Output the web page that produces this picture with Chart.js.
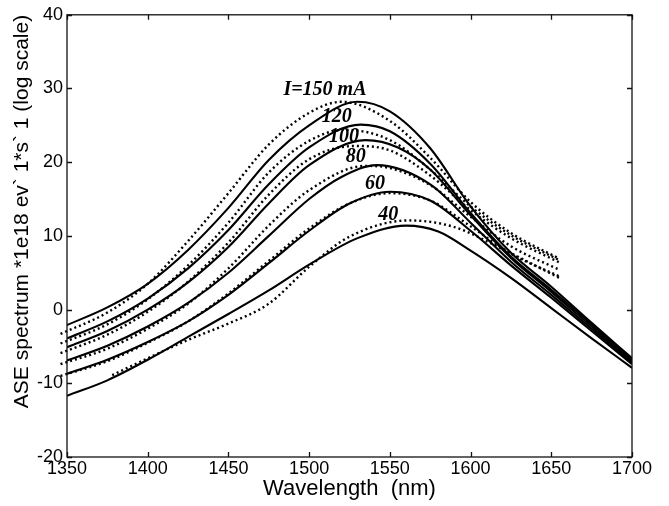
<!DOCTYPE html>
<html>
<head>
<meta charset="utf-8">
<script src="https://cdn.jsdelivr.net/npm/chart.js@4/dist/chart.umd.min.js"></script>
<style>
  html, body { margin: 0; padding: 0; background: #fff; }
  #wrap { width: 669px; height: 506px; }
</style>
</head>
<body>
<div id="wrap"><canvas id="c" width="669" height="506"></canvas></div>
<script>
// ---- data ----
const xTicks = [1350, 1400, 1450, 1500, 1550, 1600, 1650, 1700];
const yTicks = [-20, -10, 0, 10, 20, 30, 40];

// simulated spectra (solid lines)
const sim150Wl = [1350, 1375, 1400, 1425, 1450, 1475, 1500, 1530, 1550, 1575, 1600, 1625, 1650, 1675, 1700];
const sim150   = [-2.1, 0.3, 3.5, 8.1, 13.8, 20.3, 25.0, 28.2, 26.9, 21.9, 14.0, 7.7, 3.1, -1.8, -6.6];
const sim120Wl = [1350, 1375, 1400, 1425, 1450, 1475, 1500, 1532, 1550, 1575, 1600, 1625, 1650, 1675, 1700];
const sim120   = [-3.9, -1.6, 1.5, 5.6, 10.8, 17.0, 22.0, 25.1, 24.2, 19.8, 13.1, 7.2, 2.7, -2.0, -6.8];
const sim100Wl = [1350, 1375, 1400, 1425, 1450, 1475, 1500, 1535, 1555, 1575, 1600, 1625, 1650, 1675, 1700];
const sim100   = [-5.1, -2.9, 0.0, 3.7, 8.5, 14.4, 19.6, 23.0, 22.0, 19.0, 12.8, 7.0, 2.4, -2.3, -7.0];
const sim80Wl  = [1350, 1375, 1400, 1425, 1450, 1475, 1500, 1520, 1542, 1575, 1600, 1625, 1650, 1675, 1700];
const sim80    = [-6.9, -4.9, -2.3, 0.9, 5.0, 10.0, 15.0, 18.0, 19.6, 17.0, 11.8, 6.5, 2.0, -2.6, -7.2];
const sim60Wl  = [1350, 1375, 1400, 1425, 1450, 1475, 1500, 1525, 1550, 1575, 1600, 1625, 1650, 1675, 1700];
const sim60    = [-8.7, -6.8, -4.4, -1.6, 2.0, 6.3, 10.7, 14.4, 16.0, 14.8, 10.7, 6.0, 1.6, -2.9, -7.4];
const sim40Wl  = [1350, 1375, 1400, 1425, 1450, 1475, 1500, 1530, 1560, 1580, 1600, 1625, 1650, 1675, 1700];
const sim40    = [-11.7, -9.6, -6.8, -3.7, -0.6, 2.6, 6.1, 9.7, 11.4, 10.6, 8.0, 4.3, 0.2, -3.9, -7.9];

// measured spectra (dotted lines)
const meas150Wl = [1346, 1375, 1400, 1425, 1450, 1475, 1500, 1520, 1550, 1575, 1600, 1625, 1655];
const meas150   = [-3.3, -0.4, 3.5, 9.3, 15.8, 22.4, 26.7, 28.2, 25.6, 20.6, 14.6, 10.4, 6.9];
const meas120Wl = [1346, 1375, 1400, 1425, 1450, 1475, 1500, 1522, 1550, 1575, 1600, 1625, 1655];
const meas120   = [-4.6, -2.0, 1.4, 6.0, 11.8, 18.6, 22.9, 24.4, 23.0, 19.0, 14.0, 10.1, 6.7];
const meas100Wl = [1346, 1375, 1400, 1425, 1450, 1475, 1500, 1528, 1550, 1575, 1600, 1625, 1655];
const meas100   = [-5.9, -3.4, -0.3, 3.8, 9.1, 15.6, 20.4, 22.2, 21.6, 18.2, 13.5, 9.7, 6.4];
const meas80Wl  = [1346, 1375, 1400, 1425, 1450, 1475, 1500, 1535, 1550, 1575, 1600, 1625, 1655];
const meas80    = [-7.4, -5.3, -2.6, 0.8, 5.6, 11.4, 16.2, 19.5, 19.2, 16.9, 12.6, 8.6, 5.4];
const meas60Wl  = [1346, 1375, 1400, 1425, 1450, 1475, 1500, 1525, 1550, 1575, 1600, 1625, 1655];
const meas60    = [-9.0, -7.0, -4.5, -1.6, 2.2, 6.6, 11.0, 14.4, 15.8, 14.8, 11.3, 7.6, 4.5];
const meas40Wl  = [1378, 1400, 1425, 1450, 1475, 1500, 1525, 1562, 1590, 1618, 1655];
const meas40    = [-8.9, -6.6, -4.1, -1.9, 0.8, 5.8, 9.9, 12.1, 11.2, 8.4, 4.3];

// curve labels and their anchor (data units)
const curveLabels = ['I=150 mA', '120', '100', '80', '60', '40'];
const labelWl     = [1509.8, 1517.1, 1521.6, 1528.9, 1540.8, 1549.0];
const labelVal    = [29.8, 26.2, 23.5, 20.7, 17.1, 12.9];

// ---- build chart ----
const toPts = (xs, ys) => xs.map((x, i) => ({ x: x, y: ys[i] }));
const solid = (xs, ys) => ({
  data: toPts(xs, ys), borderColor: '#000', borderWidth: 2.1,
  pointRadius: 0, cubicInterpolationMode: 'monotone', fill: false
});
const dotted = (xs, ys) => ({
  data: toPts(xs, ys), borderColor: '#000', borderWidth: 2.4,
  borderDash: [2, 3], borderCapStyle: 'butt',
  pointRadius: 0, cubicInterpolationMode: 'monotone', fill: false, clip: false
});

const sansFont = "'Liberation Sans', Arial, Helvetica, sans-serif";

const boxTicks = {
  id: 'boxTicks',
  afterDatasetsDraw(chart) {
    const { ctx, chartArea: a, scales } = chart;
    const L = 5;
    ctx.save();
    ctx.strokeStyle = '#111';
    ctx.lineWidth = 1.3;
    ctx.strokeRect(a.left, a.top, a.right - a.left, a.bottom - a.top);
    ctx.beginPath();
    xTicks.forEach(v => {
      const px = Math.round(scales.x.getPixelForValue(v)) + 0.5;
      ctx.moveTo(px, a.bottom); ctx.lineTo(px, a.bottom - L);
      ctx.moveTo(px, a.top); ctx.lineTo(px, a.top + L);
    });
    yTicks.forEach(v => {
      const py = Math.round(scales.y.getPixelForValue(v)) + 0.5;
      ctx.moveTo(a.left, py); ctx.lineTo(a.left + L, py);
      ctx.moveTo(a.right, py); ctx.lineTo(a.right - L, py);
    });
    ctx.stroke();
    // curve labels
    ctx.fillStyle = '#000';
    ctx.font = "bold italic 20px 'Liberation Serif', 'Times New Roman', serif";
    ctx.textAlign = 'center';
    ctx.textBaseline = 'middle';
    curveLabels.forEach((t, i) => {
      ctx.fillText(t, scales.x.getPixelForValue(labelWl[i]), scales.y.getPixelForValue(labelVal[i]));
    });
    ctx.restore();
  }
};

new Chart(document.getElementById('c'), {
  type: 'line',
  data: {
    datasets: [
      solid(sim150Wl, sim150), solid(sim120Wl, sim120), solid(sim100Wl, sim100),
      solid(sim80Wl, sim80), solid(sim60Wl, sim60), solid(sim40Wl, sim40),
      dotted(meas150Wl, meas150), dotted(meas120Wl, meas120), dotted(meas100Wl, meas100),
      dotted(meas80Wl, meas80), dotted(meas60Wl, meas60), dotted(meas40Wl, meas40)
    ]
  },
  options: {
    responsive: false,
    animation: false,
    devicePixelRatio: 1,
    layout: { padding: { left: 0, top: 12, right: 37, bottom: 0 } },
    plugins: { legend: { display: false }, tooltip: { enabled: false } },
    scales: {
      x: {
        type: 'linear', min: 1350, max: 1700,
        afterBuildTicks: (s) => { s.ticks = xTicks.map(v => ({ value: v })); },
        afterFit: (s) => { s.height = 49; },
        ticks: { color: '#000', padding: 1, maxRotation: 0, callback: (v) => String(v),
                 font: { family: sansFont, size: 18 } },
        grid: { display: false, drawTicks: false },
        border: { display: false },
        title: { display: true, text: 'Wavelength  (nm)', color: '#000',
                 font: { family: sansFont, size: 22, lineHeight: 1 }, padding: { top: 0, bottom: 6 } }
      },
      y: {
        type: 'linear', min: -20, max: 40,
        afterBuildTicks: (s) => { s.ticks = yTicks.map(v => ({ value: v })); },
        afterFit: (s) => { s.width = 67; },
        ticks: { color: '#000', padding: 4, callback: (v) => String(v),
                 font: { family: sansFont, size: 18 } },
        grid: { display: false, drawTicks: false },
        border: { display: false },
        title: { display: true, text: 'ASE spectrum *1e18 ev` 1*s` 1 (log scale)', color: '#000', align: 'end',
                 font: { family: sansFont, size: 21, lineHeight: 1 }, padding: { top: 12, bottom: 0 } }
      }
    }
  },
  plugins: [boxTicks]
});
</script>
</body>
</html>
